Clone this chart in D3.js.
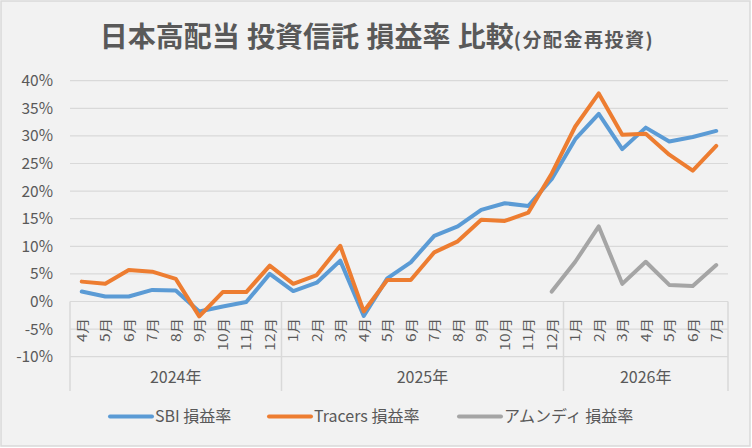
<!DOCTYPE html>
<html>
<head>
<meta charset="utf-8">
<script src="https://cdn.jsdelivr.net/npm/d3@7"></script>
<style>
  body { margin: 0; background: #fff; }
  svg text { font-family: "Noto Sans CJK JP", "Noto Sans", sans-serif; fill: #595959; }
</style>
</head>
<body>
<svg id="chart" width="752" height="448"></svg>
<script>
// categories
var years = ["2024年", "2025年", "2026年"];
var yearMonths = [
  ["4月","5月","6月","7月","8月","9月","10月","11月","12月"],
  ["1月","2月","3月","4月","5月","6月","7月","8月","9月","10月","11月","12月"],
  ["1月","2月","3月","4月","5月","6月","7月"]
];
var yTicks = [-10, -5, 0, 5, 10, 15, 20, 25, 30, 35, 40];

// series values (%)
var sbi = [1.8, 0.9, 0.9, 2.1, 2.0, -1.8, -0.9, -0.1, 5.0,
  1.9, 3.4, 7.4, -2.6, 4.2, 7.1, 11.9, 13.6, 16.6, 17.8, 17.3, 22.2,
  29.4, 34.0, 27.6, 31.5, 29.0, 29.8, 30.9];
var tracers = [3.6, 3.2, 5.7, 5.4, 4.1, -2.7, 1.7, 1.7, 6.5,
  3.2, 4.8, 10.1, -1.8, 3.9, 3.9, 8.9, 10.9, 14.8, 14.6, 16.1, 23.2,
  31.7, 37.7, 30.2, 30.4, 26.6, 23.7, 28.2];
var amundi = [null, null, null, null, null, null, null, null, null,
  null, null, null, null, null, null, null, null, null, null, null, 1.8,
  7.2, 13.6, 3.2, 7.2, 3.0, 2.8, 6.6];

var seriesNames = ["SBI 損益率", "Tracers 損益率", "アムンディ 損益率"];
var seriesColors = ["#5B9BD5", "#ED7D31", "#A5A5A5"];
var seriesData = [sbi, tracers, amundi];

// flat category list
var cats = [];
yearMonths.forEach(function(ms, yi) {
  ms.forEach(function(m) { cats.push({ year: yi, month: m, key: yi + "-" + m }); });
});

var svg = d3.select("#chart");

// chart background + border
svg.append("rect")
  .attr("x", 1).attr("y", 1).attr("width", 749).attr("height", 445)
  .attr("fill", "#f2f2f2").attr("stroke", "#d9d9d9").attr("stroke-width", 1.5);

var x = d3.scaleBand().domain(cats.map(function(c) { return c.key; })).range([70, 728]);
var y = d3.scaleLinear().domain([-10, 40]).range([356.7, 80.7]);
function cx(i) { return x(cats[i].key) + x.bandwidth() / 2; }

// gridlines
svg.append("g").selectAll("line").data(yTicks).join("line")
  .attr("x1", 70).attr("x2", 728)
  .attr("y1", function(d) { return y(d); }).attr("y2", function(d) { return y(d); })
  .attr("stroke", "#d9d9d9").attr("stroke-width", 1.2);

// y labels
svg.append("g").selectAll("text").data(yTicks).join("text")
  .attr("x", 53).attr("y", function(d) { return y(d); })
  .attr("dy", "0.35em").attr("text-anchor", "end")
  .style("font-size", "15.5px")
  .text(function(d) { return d + "%"; });

// group separators (year boundaries)
var bounds = [0];
var acc = 0;
yearMonths.forEach(function(ms) { acc += ms.length; bounds.push(acc); });
function edge(b) { return b < cats.length ? x(cats[b].key) : x.range()[1]; }
svg.append("g").selectAll("line").data(bounds).join("line")
  .attr("x1", edge).attr("x2", edge)
  .attr("y1", y(0)).attr("y2", 391)
  .attr("stroke", "#d9d9d9").attr("stroke-width", 1.5);

// month labels, rotated
svg.append("g").selectAll("text").data(cats).join("text")
  .attr("transform", function(d, i) { return "translate(" + (cx(i) + 5) + ",318) rotate(-90) scale(1,0.82)"; })
  .attr("text-anchor", "end")
  .style("font-size", "15.5px")
  .text(function(d) { return d.month; });

// year labels
svg.append("g").selectAll("text").data(years).join("text")
  .attr("x", function(d, i) { return (edge(bounds[i]) + edge(bounds[i + 1])) / 2; })
  .attr("y", 377).attr("dy", "0.35em").attr("text-anchor", "middle")
  .style("font-size", "16px")
  .text(function(d) { return d; });

// lines
var line = d3.line()
  .defined(function(d) { return d != null; })
  .x(function(d, i) { return cx(i); })
  .y(function(d) { return y(d); });

svg.append("g").selectAll("path").data(seriesData).join("path")
  .attr("d", line)
  .attr("fill", "none")
  .attr("stroke", function(d, i) { return seriesColors[i]; })
  .attr("stroke-width", 4)
  .attr("stroke-linejoin", "round")
  .attr("stroke-linecap", "round");

// title
var title = svg.append("text")
  .attr("x", 377).attr("y", 47).attr("text-anchor", "middle");
title.append("tspan").style("font-size", "28px").style("font-weight", "bold")
  .style("word-spacing", "1px")
  .text("日本高配当 投資信託 損益率 比較");
title.append("tspan").style("font-size", "19px").style("font-weight", "bold")
  .style("letter-spacing", "1.5px")
  .text("(分配金再投資)");

// legend
var legendX = [109, 268, 458];
var lg = svg.append("g").selectAll("g").data(seriesNames).join("g")
  .attr("transform", function(d, i) { return "translate(" + legendX[i] + ",416.5)"; });
lg.append("line").attr("x1", 1).attr("x2", 43)
  .attr("stroke", function(d, i) { return seriesColors[i]; })
  .attr("stroke-width", 4).attr("stroke-linecap", "round");
lg.append("text").attr("x", 46).attr("dy", "0.35em")
  .style("font-size", "16px")
  .text(function(d) { return d; });
</script>
</body>
</html>
